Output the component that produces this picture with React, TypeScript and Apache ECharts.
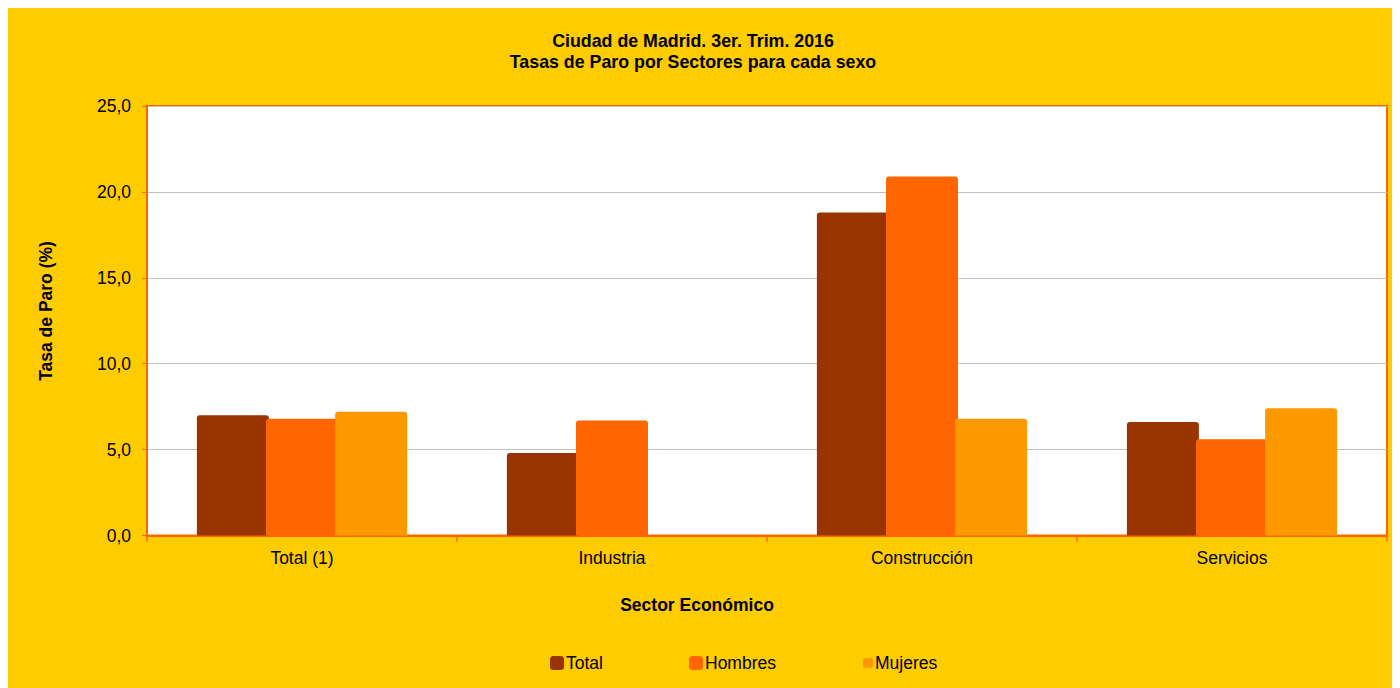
import React, { useEffect, useRef } from "react";
import * as echarts from "echarts";

const titleLines = ["Ciudad de Madrid. 3er. Trim. 2016", "Tasas de Paro por Sectores para cada sexo"];
const categories = ["Total (1)", "Industria", "Construcción", "Servicios"];
const seriesNames = ["Total", "Hombres", "Mujeres"];
const totalValues = [7.0, 4.8, 18.8, 6.6];
const hombresValues = [6.8, 6.7, 20.9, 5.6];
const mujeresValues: (number | null)[] = [7.2, null, 6.8, 7.4];
const yMin = 0;
const yMax = 25;
const yInterval = 5;
const xAxisName = "Sector Económico";
const yAxisName = "Tasa de Paro (%)";

const colors = ["#993300", "#FF6600", "#FF9900"];
const FONT = "'Liberation Sans', Arial, sans-serif";
const FS = 17.5;

export default function App() {
  const ref = useRef<HTMLDivElement>(null);
  useEffect(() => {
    document.documentElement.style.overflow = "hidden";
    document.body.style.overflow = "hidden";
    const chart = echarts.init(ref.current!, null, { renderer: "svg" });
    const values = [totalValues, hombresValues, mujeresValues];
    const legendPos = [
      { left: 542, top: 646, w: 14, h: 14 },
      { left: 681, top: 646, w: 14, h: 14 },
      { left: 855, top: 646, w: 10, h: 10 },
    ];
    chart.setOption({
      animation: false,
      backgroundColor: "#FFCC00",
      textStyle: { fontFamily: FONT },
      title: {
        text: titleLines.join("\n"),
        left: 685,
        textAlign: "center",
        top: 22,
        padding: 0,
        textStyle: { fontFamily: FONT, fontSize: 17.8, fontWeight: "bold", color: "#000", lineHeight: 21 },
      },
      legend: seriesNames.map((n, i) => ({
        data: [n],
        left: legendPos[i].left,
        top: legendPos[i].top,
        padding: 0,
        itemWidth: legendPos[i].w,
        itemHeight: legendPos[i].h,
        icon: "roundRect",
        selectedMode: false,
        textStyle: { fontFamily: FONT, fontSize: FS, color: "#000", padding: [0, 0, 0, -3] },
      })),
      grid: {
        left: 139,
        top: 98,
        width: 1240,
        height: 429.5,
        show: true,
        backgroundColor: "#FFFFFF",
        borderColor: "#FF6600",
        borderWidth: 2,
      },
      graphic: [
        {
          type: "text",
          x: 689,
          y: 597,
          style: { text: xAxisName, fontFamily: FONT, fontSize: FS, fontWeight: "bold", fill: "#000", textAlign: "center", textVerticalAlign: "middle" },
        },
        {
          type: "text",
          x: 38,
          y: 303,
          rotation: Math.PI / 2,
          style: { text: yAxisName, fontFamily: FONT, fontSize: FS, fontWeight: "bold", fill: "#000", textAlign: "center", textVerticalAlign: "middle" },
        },
      ],
      xAxis: {
        type: "category",
        data: categories,
        axisLine: { lineStyle: { color: "#FF6600", width: 2 } },
        axisTick: { show: true, length: 6, lineStyle: { color: "#FF6600", width: 1.5 } },
        axisLabel: { fontFamily: FONT, fontSize: FS, color: "#000", margin: 13 },
      },
      yAxis: {
        type: "value",
        min: yMin,
        max: yMax,
        interval: yInterval,
        axisLine: { show: true, lineStyle: { color: "#FF6600", width: 2 } },
        axisTick: { show: true, length: 5, lineStyle: { color: "#FF6600", width: 1 } },
        axisLabel: {
          fontFamily: FONT,
          fontSize: FS,
          color: "#000",
          margin: 16,
          formatter: (v: number) => v.toFixed(1).replace(".", ","),
        },
        splitLine: { lineStyle: { color: "#C0C0C0", width: 1 } },
      },
      series: seriesNames.map((n, i) => ({
        name: n,
        type: "bar",
        data: values[i],
        barWidth: 72,
        barGap: "-4%",
        itemStyle: { color: colors[i], borderRadius: [3, 3, 0, 0] },
      })),
    });
    return () => chart.dispose();
  }, []);
  return <div ref={ref} style={{ width: 1392, height: 700 }} />;
}
